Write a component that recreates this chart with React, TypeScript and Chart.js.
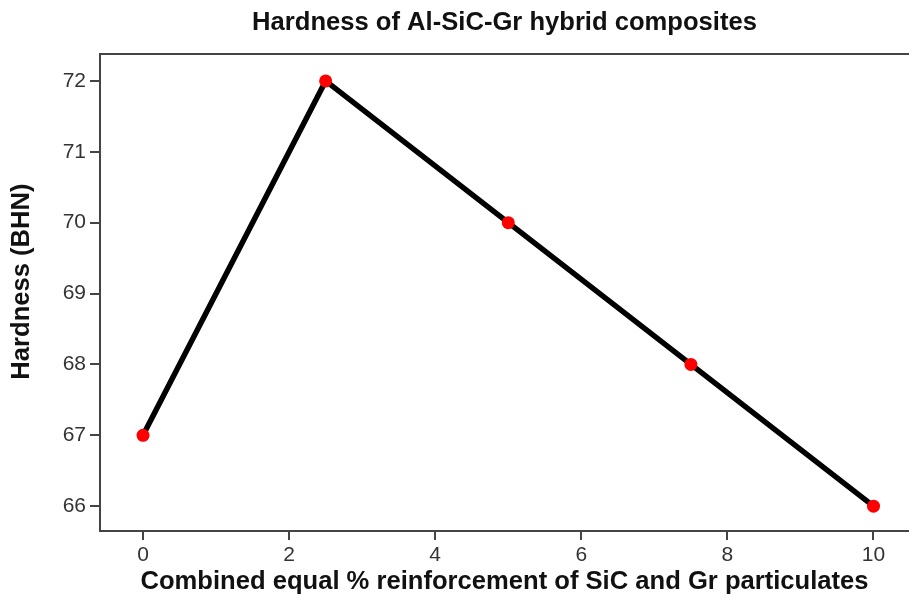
import React, { useEffect, useRef } from "react";
import { Chart, registerables } from "chart.js";

Chart.register(...registerables);

const reinforcement = [0, 2.5, 5, 7.5, 10];
const hardness = [67, 72, 70, 68, 66];
const xTickValues = [0, 2, 4, 6, 8, 10];
const yTickValues = [66, 67, 68, 69, 70, 71, 72];

const chartTitle = "Hardness of Al-SiC-Gr hybrid composites";
const xTitle = "Combined equal % reinforcement of SiC and Gr particulates";
const yTitle = "Hardness (BHN)";

const FONT = "'Liberation Sans', Arial, sans-serif";
const TITLE_SIZE = 25.6;

const framePlugin = {
  id: "frameAndYTitle",
  afterDraw(chart: any) {
    const { ctx, chartArea } = chart;
    ctx.save();
    ctx.strokeStyle = "#444";
    ctx.lineWidth = 2;
    ctx.beginPath();
    ctx.moveTo(chartArea.left - 1, chartArea.top);
    ctx.lineTo(chartArea.right, chartArea.top);
    ctx.stroke();
    // y axis title, placed slightly above the plot centre as in the reference
    ctx.translate(22, chartArea.top + (chartArea.bottom - chartArea.top) * 0.477);
    ctx.rotate(-Math.PI / 2);
    ctx.fillStyle = "#111";
    ctx.font = `bold ${TITLE_SIZE}px ${FONT}`;
    ctx.textAlign = "center";
    ctx.textBaseline = "middle";
    ctx.fillText(yTitle, 0, 0);
    ctx.restore();
  },
};

export default function App() {
  const ref = useRef<HTMLCanvasElement>(null);

  useEffect(() => {
    document.body.style.margin = "0";
    const canvas = ref.current;
    if (!canvas) return;
    const chart = new Chart(canvas, {
      type: "line",
      data: {
        datasets: [
          {
            data: reinforcement.map((x, i) => ({ x, y: hardness[i] })),
            borderColor: "#000",
            borderWidth: 5.5,
            pointBackgroundColor: "#ff0000",
            pointBorderWidth: 0,
            pointRadius: 6.5,
            tension: 0,
            clip: false,
          },
        ],
      },
      options: {
        responsive: false,
        animation: false,
        devicePixelRatio: 1,
        layout: { padding: 0, autoPadding: false },
        plugins: {
          legend: { display: false },
          tooltip: { enabled: false },
          title: {
            display: true,
            text: chartTitle,
            fullSize: false,
            color: "#111",
            font: { family: FONT, size: TITLE_SIZE, weight: "bold" },
            padding: { top: 7.5, bottom: 15.8 },
          },
        },
        scales: {
          x: {
            type: "linear",
            min: -0.589,
            max: 10.486,
            afterBuildTicks: (scale: any) => {
              scale.ticks = xTickValues.map((v) => ({ value: v }));
            },
            afterFit: (scale: any) => {
              scale.height = 68;
              scale.paddingLeft = 0;
              scale.paddingRight = 0;
            },
            grid: {
              drawOnChartArea: false,
              drawTicks: true,
              tickLength: 9,
              color: "#444",
              lineWidth: 2,
            },
            border: { display: true, color: "#444", width: 2 },
            ticks: {
              color: "#333",
              padding: 3,
              font: { family: FONT, size: 21 },
              maxRotation: 0,
            },
            title: {
              display: true,
              text: xTitle,
              color: "#111",
              font: { family: FONT, size: TITLE_SIZE, weight: "bold" },
              padding: { top: 0, bottom: 2 },
            },
          },
          y: {
            type: "linear",
            min: 65.65,
            max: 72.38,
            afterBuildTicks: (scale: any) => {
              scale.ticks = yTickValues.map((v) => ({ value: v }));
            },
            afterFit: (scale: any) => {
              scale.width = 100;
              scale.paddingTop = 0;
              scale.paddingBottom = 0;
            },
            grid: {
              drawOnChartArea: false,
              drawTicks: true,
              tickLength: 10,
              color: "#444",
              lineWidth: 2,
            },
            border: { display: true, color: "#444", width: 2 },
            ticks: {
              color: "#333",
              padding: 4,
              font: { family: FONT, size: 21 },
            },
            title: { display: false },
          },
        },
      },
      plugins: [framePlugin],
    } as any);
    return () => chart.destroy();
  }, []);

  return <canvas ref={ref} width={909} height={599} style={{ display: "block" }} />;
}
